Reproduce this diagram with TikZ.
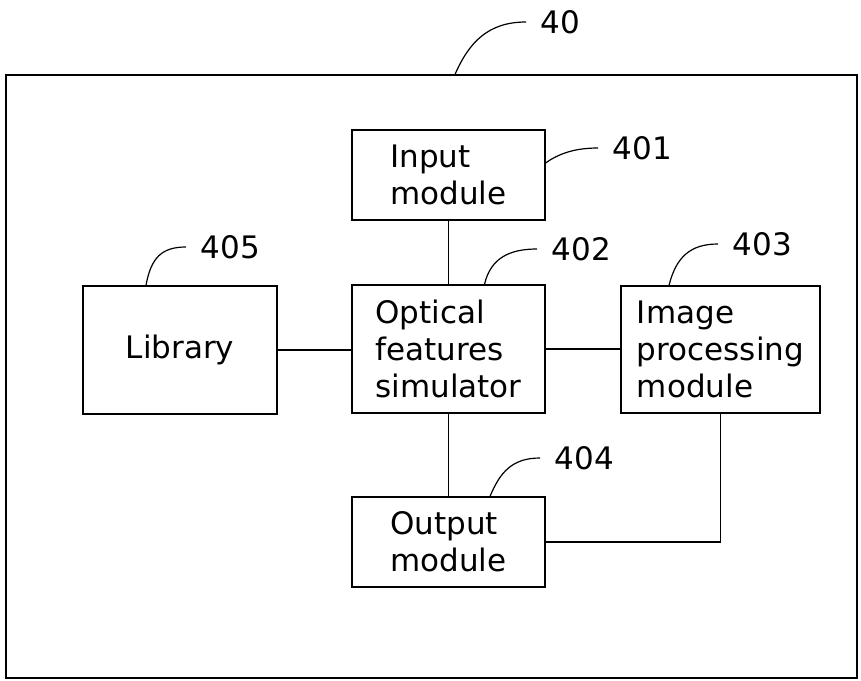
\documentclass[tikz,border=0pt]{standalone}
\usepackage{fontspec}
\setmainfont{DejaVu Sans}
\begin{document}
\begin{tikzpicture}[x=1pt,y=-1pt,line width=1.2pt,
            unit/.style={draw,align=left,inner sep=0pt,font=\fontsize{31}{37}\selectfont},
            ref/.style={anchor=west,inner xsep=14pt,inner ysep=0pt,font=\fontsize{31}{37}\selectfont}]
            \useasboundingbox (0,0) rectangle (861,680);
            \node[draw,minimum width=851pt,minimum height=603pt,inner sep=0pt] (sys) at (431.5,376.5) {};
            \node[unit,minimum width=193pt,minimum height=90pt] (inp) at (448.5,175) {Input\\module};
            \node[unit,minimum width=193pt,minimum height=128pt] (opt) at (448.5,349) {Optical\\features\\simulator};
            \node[unit,minimum width=194pt,minimum height=128pt] (lib) at (180,350) {Library};
            \node[unit,minimum width=199pt,minimum height=127pt] (img) at (720.5,349.5) {Image\\processing\\module};
            \node[unit,minimum width=193pt,minimum height=90pt] (out) at (448.5,542) {Output\\module};
            \draw (inp.south) -- (opt.north);
            \draw (lib.east) -- (lib.east -| opt.west);
            \draw (opt.east) -- (opt.east -| img.west);
            \draw (opt.south) -- (out.north);
            \draw (img.south) |- (out.east);
            \node[ref] (n40) at (526,22) {40};
            \node[ref] (n401) at (598,148) {401};
            \node[ref] (n402) at (537,249) {402};
            \node[ref] (n403) at (718,244) {403};
            \node[ref] (n404) at (540,458) {404};
            \node[ref] (n405) at (186,247) {405};
            \draw ([xshift=23.5pt]sys.north) .. controls +(14,-32) and +(-38,0) .. (n40.west);
            \draw ([yshift=12pt]inp.east) .. controls +(14,-10) and +(-22,0) .. (n401.west);
            \draw ([xshift=36pt]opt.north) .. controls +(6,-26) and +(-28,0) .. (n402.west);
            \draw ([xshift=-51.5pt]img.north) .. controls +(7,-28) and +(-28,0) .. (n403.west);
            \draw ([xshift=41.5pt]out.north) .. controls +(10,-24) and +(-28,0) .. (n404.west);
            \draw ([xshift=-34pt]lib.north) .. controls +(5,-28) and +(-24,0) .. (n405.west);
        \end{tikzpicture}
\end{document}
